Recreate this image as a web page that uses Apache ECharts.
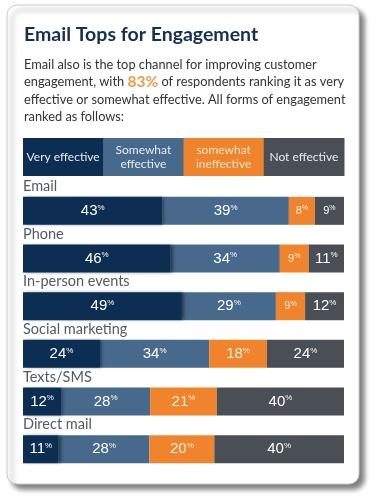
<!DOCTYPE html>
<html>
<head>
<meta charset="utf-8">
<script src="https://cdn.jsdelivr.net/npm/echarts@6/dist/echarts.min.js"></script>
<style>
html,body{margin:0;padding:0;background:#fff;}
#chart{width:379px;height:503px;}
</style>
</head>
<body>
<div id="chart"></div>
<script>
const titleText = 'Email Tops for Engagement';
const introLines = [
  'Email also is the top channel for improving customer',
  'engagement, with {o|83%} of respondents ranking it as very',
  'effective or somewhat effective. All forms of engagement',
  'ranked as follows:'
];
const categories = ['Email', 'Phone', 'In-person events', 'Social marketing', 'Texts/SMS', 'Direct mail'];
const seriesNames = ['Very effective', 'Somewhat effective', 'somewhat ineffective', 'Not effective'];
const headerLabels = ['Very effective', 'Somewhat\neffective', 'somewhat\nineffective', 'Not effective'];
const veryEffective = [43, 46, 49, 24, 12, 11];
const somewhatEffective = [39, 34, 29, 34, 28, 28];
const somewhatIneffective = [8, 9, 9, 18, 21, 20];
const notEffective = [9, 11, 12, 24, 40, 40];

const seriesValues = [veryEffective, somewhatEffective, somewhatIneffective, notEffective];
const colors = ['#0c2e53', '#46698c', '#f0842c', '#4a4f56'];
const labelColors = ['#ffffff', '#ffffff', '#fdeedd', '#ffffff'];
const totals = categories.map((c, i) => seriesValues.reduce((s, arr) => s + arr[i], 0));

const GRID_LEFT = 23, GRID_RIGHT = 35, GRID_TOP = 187, GRID_BOTTOM = 30;
const BAR_W = 28;

const chart = echarts.init(document.getElementById('chart'), null, {renderer: 'canvas'});

const series = seriesValues.map((arr, si) => ({
  name: seriesNames[si],
  type: 'bar',
  stack: 'all',
  barWidth: BAR_W,
  z: si === 0 ? 4 : 2,
  itemStyle: si === 0 ? {
    color: colors[si],
    shadowColor: 'rgba(0,0,0,0.45)',
    shadowBlur: 3,
    shadowOffsetX: 2
  } : {color: colors[si]},
  data: arr.map((v, i) => ({value: v / totals[i] * 100, raw: v})),
  label: {
    show: true,
    position: 'inside',
    formatter: p => p.data.raw < 10 ? '{sv|' + p.data.raw + '}{sp|%}' : '{v|' + p.data.raw + '}{p|%}',
    rich: {
      v: {fontFamily: 'Liberation Sans', fontSize: 15, color: labelColors[si]},
      p: {fontFamily: 'Liberation Sans', fontSize: 8, color: labelColors[si], padding: [0, 0, 7, 0]},
      sv: {fontFamily: 'Liberation Sans', fontSize: 11, color: labelColors[si]},
      sp: {fontFamily: 'Liberation Sans', fontSize: 7, color: labelColors[si], padding: [0, 0, 5, 0]}
    }
  }
}));

const plotW = 379 - GRID_LEFT - GRID_RIGHT;
const cellW = plotW / headerLabels.length;
const headerGraphics = [];
headerLabels.forEach((t, i) => {
  headerGraphics.push({
    type: 'rect',
    shape: {x: GRID_LEFT + i * cellW, y: 138, width: cellW + 0.5, height: 38},
    style: {fill: colors[i]},
    z: 10
  });
  headerGraphics.push({
    type: 'text',
    x: GRID_LEFT + i * cellW + cellW / 2,
    y: 157,
    style: {
      text: t,
      fill: i === 2 ? '#fde3c8' : '#e6ebf1',
      font: '12px Lato',
      align: 'center',
      verticalAlign: 'middle',
      lineHeight: 14
    },
    z: 11
  });
});

chart.setOption({
  animation: false,
  title: [
    {
      text: titleText,
      left: 19, top: 20,
      textStyle: {fontFamily: 'Lato', fontWeight: 'bold', fontSize: 19.5, color: '#15304e'}
    },
    {
      text: introLines.join('\n'),
      left: 19, top: 51,
      textStyle: {
        fontFamily: 'Lato', fontSize: 12.8, fontWeight: 'normal', color: '#333333', lineHeight: 17.5,
        rich: {o: {fontFamily: 'Lato', fontSize: 15.5, fontWeight: 'bold', color: '#f39a45', lineHeight: 17.5}}
      }
    }
  ],
  graphic: [
    {
      type: 'rect',
      shape: {x: 7, y: 5, width: 352, height: 479, r: 10},
      style: {fill: '#ffffff', stroke: '#c9c9c9', lineWidth: 1, shadowColor: 'rgba(0,0,0,0.5)', shadowBlur: 5, shadowOffsetX: 5, shadowOffsetY: 5},
      z: -10
    }
  ].concat(headerGraphics),
  grid: {left: GRID_LEFT, right: GRID_RIGHT, top: GRID_TOP, bottom: GRID_BOTTOM, containLabel: false},
  xAxis: {type: 'value', min: 0, max: 100, show: false},
  yAxis: {
    type: 'category',
    inverse: true,
    data: categories,
    axisLine: {show: false},
    axisTick: {show: false},
    splitLine: {show: false},
    axisLabel: {
      inside: true,
      margin: 0,
      align: 'left',
      verticalAlign: 'bottom',
      padding: [0, 0, 17, 0],
      fontFamily: 'Lato',
      fontSize: 14.5,
      color: '#555a5f',
      z: 5
    }
  },
  series: series
});
</script>
</body>
</html>
